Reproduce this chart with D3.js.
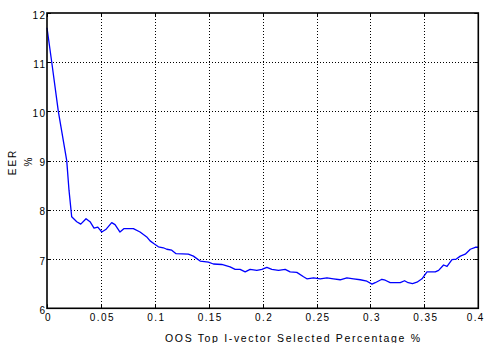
<!DOCTYPE html>
<html><head><meta charset="utf-8">
<script src="https://cdn.jsdelivr.net/npm/d3@7"></script>
<style>
html,body{margin:0;padding:0;background:#fff;}
svg{display:block;}
text{font-family:"Liberation Sans",Arial,sans-serif;fill:#000;}
</style></head>
<body>
<svg id="chart" width="486" height="343"></svg>
<script>
// x values (fraction selected)
const xValues = [0,0.0044,0.0105,0.0183,0.0204,0.0229,0.0276,0.0313,0.0362,0.0399,0.0436,0.0471,0.0508,0.0545,0.0600,0.0631,0.0677,0.0715,0.0801,0.0863,0.0925,0.0956,0.0993,0.1033,0.1079,0.1111,0.1157,0.1197,0.1311,0.1358,0.1420,0.1497,0.1543,0.1621,0.1698,0.1745,0.1791,0.1838,0.1884,0.1946,0.1993,0.2039,0.2085,0.2147,0.2209,0.2255,0.2317,0.2379,0.2410,0.2472,0.2534,0.2596,0.2657,0.2719,0.2781,0.2843,0.2905,0.2967,0.3014,0.3044,0.3106,0.3137,0.3183,0.3276,0.3316,0.3350,0.3390,0.3431,0.3478,0.3524,0.3601,0.3632,0.3678,0.3710,0.3756,0.3796,0.3833,0.3879,0.3926,0.3972,0.4];
// EER values (%)
const eerValues = [11.70,11.0,10.0,9.0,8.4,7.86,7.76,7.71,7.82,7.76,7.63,7.65,7.55,7.60,7.74,7.70,7.55,7.62,7.62,7.55,7.45,7.37,7.31,7.25,7.23,7.20,7.18,7.11,7.10,7.06,6.96,6.94,6.90,6.89,6.84,6.79,6.79,6.74,6.79,6.77,6.79,6.83,6.79,6.77,6.79,6.74,6.73,6.64,6.60,6.62,6.60,6.62,6.60,6.58,6.62,6.60,6.58,6.55,6.49,6.52,6.59,6.57,6.52,6.52,6.56,6.52,6.50,6.53,6.60,6.74,6.74,6.77,6.88,6.85,6.99,7.00,7.06,7.10,7.20,7.24,7.24];
const xTicks = [0,0.05,0.1,0.15,0.2,0.25,0.3,0.35,0.4];
const xTickLabels = ["0","0.05","0.1","0.15","0.2","0.25","0.3","0.35","0.4"];
const yTicks = [6,7,8,9,10,11,12];
const yTickLabels = ["6","7","8","9","10","11","12"];
const xTitle = "OOS Top I-vector Selected Percentage %";
const yTitleLines = ["EER","%"];

const L=47, R=478.3, T=13, B=308.3;
const svg = d3.select("#chart");
const x = d3.scaleLinear().domain([0,0.4]).range([L,R]);
const y = d3.scaleLinear().domain([6,12]).range([B,T]);
const px = v => Math.round(v)+0.5;

// grid
const g = svg.append("g");
g.selectAll("line.vg").data(xTicks.slice(1,-1)).enter().append("line")
  .attr("x1",d=>px(x(d))).attr("x2",d=>px(x(d))).attr("y1",T).attr("y2",B)
  .attr("stroke","#000").attr("stroke-width",1).attr("stroke-dasharray","1,2");
g.selectAll("line.hg").data(yTicks.slice(1,-1)).enter().append("line")
  .attr("y1",d=>px(y(d))).attr("y2",d=>px(y(d))).attr("x1",L).attr("x2",R)
  .attr("stroke","#000").attr("stroke-width",1).attr("stroke-dasharray","1,2");

// ticks (inward, all sides)
const tl=4;
xTicks.forEach(t=>{
  g.append("line").attr("x1",px(x(t))).attr("x2",px(x(t))).attr("y1",B).attr("y2",B-tl).attr("stroke","#000");
  g.append("line").attr("x1",px(x(t))).attr("x2",px(x(t))).attr("y1",T).attr("y2",T+tl).attr("stroke","#000");
});
yTicks.forEach(t=>{
  g.append("line").attr("y1",px(y(t))).attr("y2",px(y(t))).attr("x1",L).attr("x2",L+tl).attr("stroke","#000");
  g.append("line").attr("y1",px(y(t))).attr("y2",px(y(t))).attr("x1",R).attr("x2",R-tl).attr("stroke","#000");
});

// line
const line = d3.line().x((d,i)=>x(xValues[i])).y(d=>y(d));
svg.append("path").datum(eerValues).attr("d",line)
  .attr("fill","none").attr("stroke","#0000ff").attr("stroke-width",1.3).attr("stroke-linejoin","round");

// frame
svg.append("rect").attr("x",L).attr("y",T).attr("width",R-L).attr("height",B-T)
  .attr("fill","none").attr("stroke","#000").attr("stroke-width",1.6);

// tick labels
svg.selectAll("text.xt").data(xTicks).enter().append("text")
  .attr("x",(d,i)=> i===xTicks.length-1 ? x(d)-2.5 : x(d)+1.5).attr("y",321).attr("text-anchor","middle")
  .attr("font-size",10).style("letter-spacing","1.4px")
  .text((d,i)=>xTickLabels[i]);
svg.selectAll("text.yt").data(yTicks).enter().append("text")
  .attr("x",46.5).attr("y",d=>y(d)+5.5).attr("text-anchor","end")
  .attr("font-size",10).style("letter-spacing","1.4px")
  .text((d,i)=>yTickLabels[i]);

// titles
svg.append("text").attr("x",165).attr("y",341.5).attr("font-size",10.5)
  .attr("textLength",255).attr("lengthAdjust","spacing").text(xTitle);
svg.append("text").attr("transform","translate(15.5,162) rotate(-90)")
  .attr("text-anchor","middle").attr("font-size",10).style("letter-spacing","2px").text(yTitleLines[0]);
svg.append("text").attr("transform","translate(31.5,162) rotate(-90)")
  .attr("text-anchor","middle").attr("font-size",10).text(yTitleLines[1]);
</script>
</body></html>
